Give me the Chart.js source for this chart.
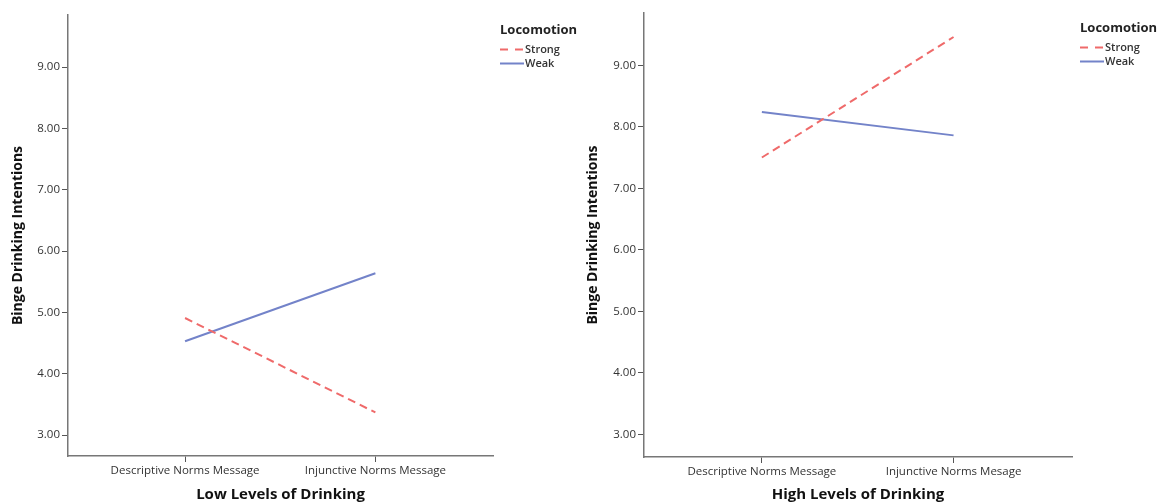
<!DOCTYPE html>
<html>
<head>
<meta charset="utf-8">
<script src="https://cdn.jsdelivr.net/npm/chart.js@4/dist/chart.umd.min.js"></script>
<style>
  body { margin: 0; background: #fff; width: 1159px; height: 504px; overflow: hidden; position: relative; font-family: "Open Sans", sans-serif; }
  .panel { position: absolute; top: 0; }
  .legend { position: absolute; color: #222; }
  .legend .ttl { font-weight: bold; font-size: 13px; line-height: 17px; margin-bottom: 4px; }
  .legend .item { font-size: 11px; font-weight: 600; line-height: 14px; position: relative; padding-left: 25px; color: #333; }
  .legend svg { position: absolute; left: 0; top: 6px; }
</style>
</head>
<body>
<div class="panel" style="left:0"><canvas id="lowChart" width="580" height="504"></canvas></div>
<div class="panel" style="left:580px"><canvas id="highChart" width="579" height="504"></canvas></div>

<div class="legend" style="left:500px; top:21px">
  <div class="ttl">Locomotion</div>
  <div class="item"><svg width="24" height="3"><line x1="0" y1="1.5" x2="24" y2="1.5" stroke="#ef6a6a" stroke-width="2" stroke-dasharray="8,7"/></svg>Strong</div>
  <div class="item"><svg width="24" height="3"><line x1="0" y1="1.5" x2="24" y2="1.5" stroke="#7383c9" stroke-width="2"/></svg>Weak</div>
</div>
<div class="legend" style="left:1080px; top:19px">
  <div class="ttl">Locomotion</div>
  <div class="item"><svg width="24" height="3"><line x1="0" y1="1.5" x2="24" y2="1.5" stroke="#ef6a6a" stroke-width="2" stroke-dasharray="8,7"/></svg>Strong</div>
  <div class="item"><svg width="24" height="3"><line x1="0" y1="1.5" x2="24" y2="1.5" stroke="#7383c9" stroke-width="2"/></svg>Weak</div>
</div>

<script>
const lowCategories = ['Descriptive Norms Message', 'Injunctive Norms Message'];
const highCategories = ['Descriptive Norms Message', 'Injunctive Norms Mesage'];
const lowStrong = [4.91, 3.37];
const lowWeak = [4.53, 5.64];
const highStrong = [7.50, 9.46];
const highWeak = [8.24, 7.86];
const yTicks = [3, 4, 5, 6, 7, 8, 9];

const strongColor = '#ef6a6a';
const weakColor = '#7383c9';
const fam = '"Open Sans", sans-serif';

function pts(vals) {
    return vals.map((v, i) => ({ x: i + 1, y: v }));
}

function makeChart(id, cats, strong, weak, title, opts) {
    new Chart(document.getElementById(id), {
        type: 'line',
        data: {
            datasets: [
                { label: 'Strong', data: pts(strong), borderColor: strongColor, borderWidth: 2, borderDash: [8, 5], pointRadius: 0, fill: false },
                { label: 'Weak', data: pts(weak), borderColor: weakColor, borderWidth: 2, pointRadius: 0, fill: false }
            ]
        },
        options: {
            responsive: false,
            animation: false,
            layout: { padding: { top: opts.top, right: opts.right, left: 0, bottom: 0 } },
            plugins: { legend: { display: false }, tooltip: { enabled: false } },
            scales: {
                x: {
                    type: 'linear', min: 0.385, max: 2.618,
                    afterBuildTicks: s => { s.ticks = cats.map((c, i) => ({ value: i + 1 })); },
                    afterFit: s => { s.height = opts.xh; },
                    ticks: { callback: v => cats[v - 1], font: { size: 11.5, family: fam }, color: '#333', padding: 2, maxRotation: 0, autoSkip: false },
                    grid: { drawOnChartArea: false, tickLength: 6, color: '#555' },
                    border: { color: '#777', width: 1.5 },
                    title: { display: true, text: title, font: { size: 15, weight: 'bold', family: fam }, color: '#111', padding: 0 }
                },
                y: {
                    min: opts.ymin, max: 9.85,
                    afterBuildTicks: s => { s.ticks = yTicks.map(v => ({ value: v })); },
                    afterFit: s => { s.width = opts.yw; },
                    ticks: { callback: v => v.toFixed(2), font: { size: 11.5, family: fam }, color: '#333', padding: 2 },
                    grid: { drawOnChartArea: false, tickLength: 6, color: '#555' },
                    border: { color: '#777', width: 1.5 },
                    title: { display: true, text: 'Binge Drinking Intentions', font: { size: 14, weight: 'bold', family: fam }, color: '#111', padding: { top: opts.tp } }
                }
            }
        }
    });
}

makeChart('lowChart', lowCategories, lowStrong, lowWeak, 'Low Levels of Drinking', { top: 15, right: 87, xh: 48, yw: 68, ymin: 2.66, tp: 10 });
makeChart('highChart', highCategories, highStrong, highWeak, 'High Levels of Drinking', { top: 13, right: 87, xh: 47, yw: 64, ymin: 2.63, tp: 5 });
</script>
</body>
</html>
